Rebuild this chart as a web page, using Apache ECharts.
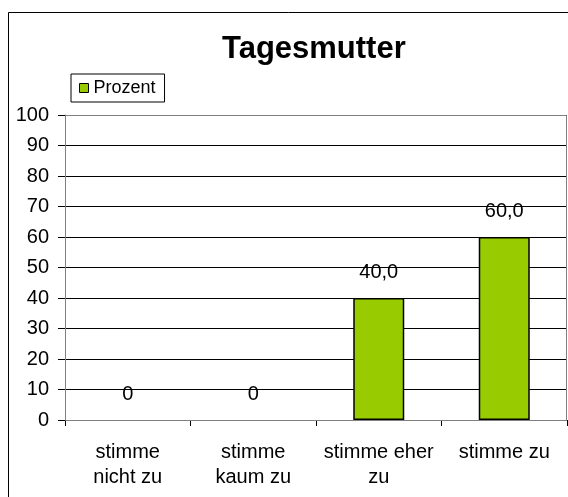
<!DOCTYPE html>
<html>
<head>
<meta charset="utf-8">
<script src="https://cdn.jsdelivr.net/npm/echarts@6/dist/echarts.min.js"></script>
<style>
html,body{margin:0;padding:0;background:#fff;}
#chart{width:568px;height:497px;}
</style>
</head>
<body>
<div id="chart"></div>
<script>
const titleText = 'Tagesmutter';
const seriesName = 'Prozent';
const categories = ['stimme\nnicht zu', 'stimme\nkaum zu', 'stimme eher\nzu', 'stimme zu'];
const values = [0, 0, 40, 60];
const yMin = 0, yMax = 100, yStep = 10;

const FONT = '"Liberation Sans", Arial, sans-serif';
const chart = echarts.init(document.getElementById('chart'), null, {renderer: 'canvas'});
chart.setOption({
  animation: false,
  backgroundColor: '#fff',
  graphic: [{
    type: 'rect', silent: true, z: -1,
    shape: {x: 8.5, y: 12.5, width: 700, height: 600},
    style: {fill: 'none', stroke: '#000', lineWidth: 1}
  }, {
    type: 'rect', silent: true, z: 1,
    shape: {x: 65.5, y: 115.5, width: 501, height: 305},
    style: {fill: 'none', stroke: '#808080', lineWidth: 1}
  }],
  title: {
    text: titleText,
    left: 217, top: 29,
    textStyle: {fontFamily: FONT, fontWeight: 'bold', fontSize: 31, color: '#000'}
  },
  legend: {
    data: [seriesName],
    left: 71, top: 74,
    padding: [5, 9, 5, 8],
    borderColor: '#000', borderWidth: 1,
    itemWidth: 9, itemHeight: 9, icon: 'rect',
    itemStyle: {borderColor: '#000', borderWidth: 1},
    textStyle: {fontFamily: FONT, fontSize: 18, color: '#000'}
  },
  grid: {left: 65, right: 1, top: 115, bottom: 77, containLabel: false},
  xAxis: {
    type: 'category',
    data: categories,
    axisLine: {lineStyle: {color: '#808080', width: 1}},
    axisTick: {show: true, length: 6, lineStyle: {color: '#000'}},
    axisLabel: {fontFamily: FONT, fontSize: 20, color: '#000', margin: 20, lineHeight: 25, interval: 0}
  },
  yAxis: {
    type: 'value', min: yMin, max: yMax, interval: yStep,
    axisLine: {show: true, lineStyle: {color: '#808080', width: 1}},
    axisTick: {show: true, length: 7, lineStyle: {color: '#000'}},
    axisLabel: {fontFamily: FONT, fontSize: 20, color: '#000', margin: 16},
    splitLine: {show: true, lineStyle: {color: '#000', width: 1}}
  },
  series: [{
    name: seriesName,
    type: 'bar',
    data: values.map(v => v === 0 ? {value: v, itemStyle: {borderWidth: 0}} : v),
    barWidth: 51,
    itemStyle: {color: '#99CC00', borderColor: '#000', borderWidth: 1.5},
    label: {
      show: true, position: 'top', distance: 16,
      fontFamily: FONT, fontSize: 20, color: '#000',
      formatter: p => p.value === 0 ? '0' : p.value.toFixed(1).replace('.', ',')
    }
  }]
});
</script>
</body>
</html>
